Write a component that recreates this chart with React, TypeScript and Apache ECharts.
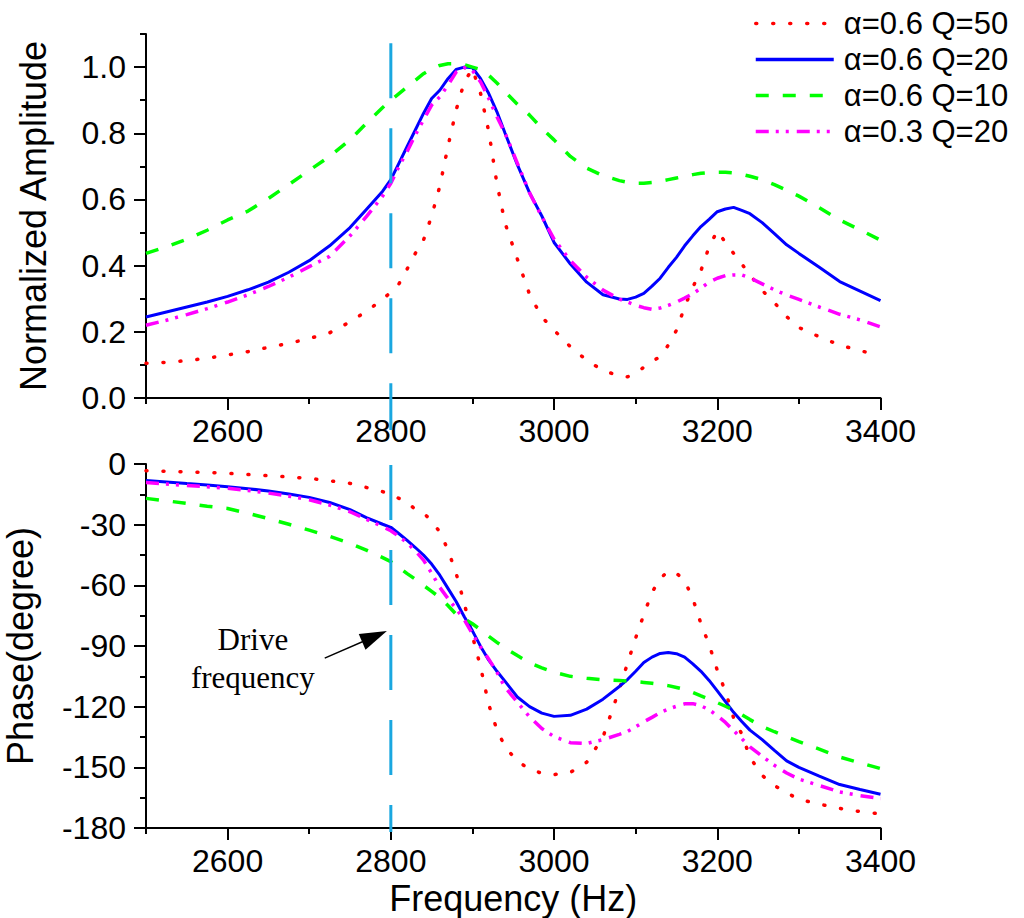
import { useEffect, useRef } from "react";
import * as echarts from "echarts";

// frequency samples (Hz), shared by every curve
const freqHz = [
  2500, 2525, 2550, 2575, 2600, 2625, 2650, 2675, 2700, 2725, 2750,
  2770, 2790,
  2800, 2810, 2820, 2830, 2840, 2850, 2860, 2870, 2880, 2890, 2900, 2910, 2920, 2930, 2940,
  2955, 2970, 2985,
  3000, 3020, 3040, 3060, 3080,
  3090, 3100, 3110, 3120, 3130, 3140, 3150, 3160, 3170, 3180, 3190, 3200, 3210, 3220, 3230, 3240,
  3255, 3270, 3285, 3300,
  3325, 3350, 3375, 3400,
];

// top panel: normalized amplitude
const ampA06Q50 = [
  0.105, 0.108, 0.113, 0.12, 0.13, 0.14, 0.153, 0.165, 0.18, 0.197, 0.23,
  0.262, 0.298,
  0.32, 0.345, 0.39, 0.437, 0.477, 0.55, 0.64, 0.76, 0.87, 0.955, 0.995, 0.92, 0.805, 0.648, 0.528,
  0.42, 0.313, 0.245,
  0.205, 0.155, 0.114, 0.083, 0.067,
  0.064, 0.075, 0.093, 0.11, 0.125, 0.16, 0.205, 0.275, 0.335, 0.385, 0.457, 0.505, 0.47, 0.437, 0.405, 0.372,
  0.325, 0.288, 0.246, 0.213,
  0.185, 0.16, 0.143, 0.128,
];
const ampA06Q20 = [
  0.245, 0.26, 0.275, 0.29, 0.307, 0.327, 0.35, 0.38, 0.415, 0.46, 0.515,
  0.57, 0.625,
  0.66, 0.71, 0.76, 0.81, 0.86, 0.905, 0.93, 0.965, 0.993, 1.0, 0.998, 0.965, 0.92, 0.865, 0.8,
  0.705, 0.62, 0.55,
  0.47, 0.405, 0.35, 0.312, 0.299,
  0.298, 0.305, 0.316, 0.338, 0.362, 0.395, 0.425, 0.46, 0.49, 0.518, 0.54, 0.563, 0.571, 0.576, 0.567, 0.557,
  0.53, 0.497, 0.463, 0.437,
  0.395, 0.352, 0.323, 0.294,
];
const ampA06Q10 = [
  0.437, 0.457, 0.48, 0.507, 0.538, 0.565, 0.603, 0.645, 0.688, 0.73, 0.78,
  0.83, 0.878,
  0.9, 0.92, 0.94, 0.96, 0.98, 0.995, 1.005, 1.01, 1.01, 1.007, 1.0, 0.993, 0.975, 0.952, 0.925,
  0.888, 0.855, 0.815,
  0.78, 0.73, 0.695, 0.672, 0.657,
  0.652, 0.649, 0.649, 0.651, 0.655, 0.66, 0.665, 0.67, 0.675, 0.679, 0.681, 0.682, 0.682, 0.68, 0.676, 0.67,
  0.66, 0.645, 0.628, 0.61,
  0.575, 0.538, 0.508, 0.477,
];
const ampA03Q20 = [
  0.22, 0.235, 0.252, 0.27, 0.29, 0.312, 0.337, 0.365, 0.397, 0.428, 0.49,
  0.548, 0.61,
  0.649, 0.7, 0.745, 0.795, 0.84, 0.885, 0.91, 0.945, 0.985, 0.998, 0.99, 0.955, 0.905, 0.85, 0.8,
  0.71, 0.62, 0.548,
  0.48, 0.415, 0.365, 0.326, 0.299,
  0.29, 0.28, 0.273, 0.268, 0.272, 0.28, 0.29, 0.302, 0.315, 0.332, 0.35, 0.362, 0.37, 0.372, 0.372, 0.363,
  0.345, 0.327, 0.311, 0.298,
  0.275, 0.253, 0.236, 0.215,
];

// bottom panel: phase (degree)
const phaseA06Q50 = [
  -3.3, -3.6, -3.9, -4.2, -4.6, -5.2, -5.8, -6.4, -7.1, -8.3, -9.6,
  -11.6, -13.7,
  -15, -17, -18.8, -22.5, -24, -28.5, -33.5, -42.5, -54, -69, -85, -100.5, -119, -131.5, -139.8,
  -147, -150.8, -153,
  -153.6, -152.5, -147.5, -135, -111.5,
  -98.5, -86, -74.5, -63.5, -56.6, -53, -54, -57.7, -66.5, -79, -89.3, -102, -112.5, -125.5, -133.5, -145,
  -154, -159, -162.6, -165.8,
  -168.2, -170.3, -171.9, -173,
];
const phaseA06Q20 = [
  -8.2, -8.9, -9.7, -10.4, -11.2, -12.2, -13.4, -14.8, -16.5, -19, -22.6,
  -26.5, -29.8,
  -31.3, -34.5, -37.8, -41.3, -45, -49.5, -55, -61.5, -68, -75.5, -82.5, -90.2, -97, -102.5, -107.5,
  -115.2, -120, -123.2,
  -124.8, -124.3, -121.2, -116.3, -110,
  -106.6, -102.5, -98.2, -95.5, -93.7, -93.2, -93.8, -95.5, -98.8, -102.5, -107, -112.2, -117.5, -122.8, -127.3, -131.6,
  -136.3, -141.6, -146.8, -150,
  -154.3, -158.5, -161, -163.3,
];
const phaseA06Q10 = [
  -17, -18.2, -19.5, -20.9, -22, -24.4, -27, -29.8, -32.7, -35.8, -39.2,
  -42.6, -46.3,
  -48.3, -51.2, -54.2, -57, -60, -63, -66, -70, -74.3, -76.5, -79, -82, -85.2, -88.2, -91,
  -94.7, -98.3, -100.8,
  -103, -105, -106, -106.7, -107.1,
  -107.3, -107.6, -108, -108.4, -109, -109.6, -110.5, -111.5, -113, -114.7, -116.3, -118, -119.8, -121.7, -124, -126.4,
  -129.8, -132.4, -134.9, -137.3,
  -141, -144.9, -147.8, -150.6,
];
const phaseA03Q20 = [
  -9.2, -9.9, -10.6, -11.3, -12, -13.1, -14.4, -15.9, -17.7, -20.3, -23.6,
  -27.3, -31,
  -33, -35.8, -39, -43, -47.5, -54, -61, -66.5, -71.5, -77, -84, -90.5, -96.5, -103, -110.5,
  -117.8, -125, -130.8,
  -134.8, -137.8, -138.2, -136.3, -133.7,
  -132.3, -130, -127.5, -125.3, -123, -121.2, -119.8, -118.6, -118.5, -119.6, -121.5, -124.5, -127.8, -131.8, -135.8, -139.9,
  -144.5, -149, -152.8, -155.8,
  -159, -162.2, -164, -165.4,
];

const seriesNames = ["α=0.6 Q=50", "α=0.6 Q=20", "α=0.6 Q=10", "α=0.3 Q=20"];
const ampSeries = [ampA06Q50, ampA06Q20, ampA06Q10, ampA03Q20];
const phaseSeries = [phaseA06Q50, phaseA06Q20, phaseA06Q10, phaseA03Q20];

const xMajorTicks = [2600, 2800, 3000, 3200, 3400];
const xMinorTicks = [2500, 2700, 2900, 3100, 3300];
const ampMajorTicks = [0, 0.2, 0.4, 0.6, 0.8, 1.0];
const ampMinorTicks = [0.1, 0.3, 0.5, 0.7, 0.9, 1.1];
const phaseMajorTicks = [-180, -150, -120, -90, -60, -30, 0];
const phaseMinorTicks = [-165, -135, -105, -75, -45, -15];

// drive frequency marker and its annotation
const driveFreq = 2800;
const driveAmpSpan = [1.072, -0.097];
const drivePhaseSpan = [-0.5, -182];
const arrowFrom = [2719, -96];
const arrowTo = [2780, -85.3];
const noteAt = [2631, -96];
const noteText = "Drive\nfrequency";

const SANS = "Liberation Sans, Arial, sans-serif";
const SERIF = "Liberation Serif, Times New Roman, serif";

const curveStyles = [
  { color: "#ff0000", width: 3.5, type: [1, 16], cap: "round" },
  { color: "#0000ff", width: 3, type: "solid" },
  { color: "#00ff00", width: 3.5, type: [13, 14] },
  { color: "#ff00ff", width: 3.5, type: [13, 7, 3, 7, 3, 8] },
];

const black = { color: "#000", width: 2 };

function xAxes(gridIndex: number, name?: string) {
  return [
    {
      type: "value",
      gridIndex,
      position: "bottom",
      min: 2500,
      max: 3400,
      name,
      nameLocation: "middle",
      nameGap: 52,
      nameTextStyle: { fontSize: 36, fontFamily: SANS, color: "#000" },
      axisLine: { show: true, onZero: false, lineStyle: black },
      axisTick: { show: true, customValues: xMajorTicks, length: 12, lineStyle: black },
      axisLabel: {
        customValues: xMajorTicks,
        margin: 17,
        fontSize: 32,
        fontFamily: SANS,
        color: "#000",
        formatter: (v: number) => String(v),
      },
      splitLine: { show: false },
    },
    {
      type: "value",
      gridIndex,
      position: "bottom",
      min: 2500,
      max: 3400,
      axisLine: { show: false, onZero: false },
      axisTick: { show: true, customValues: xMinorTicks, length: 6, lineStyle: black },
      axisLabel: { show: false },
      splitLine: { show: false },
    },
  ];
}

function yAxes(
  gridIndex: number,
  min: number,
  max: number,
  major: number[],
  minor: number[],
  name: string,
  nameGap: number,
  fmt: (v: number) => string
) {
  return [
    {
      type: "value",
      gridIndex,
      position: "left",
      min,
      max,
      name,
      nameLocation: "middle",
      nameGap,
      nameTextStyle: { fontSize: 36, fontFamily: SANS, color: "#000" },
      axisLine: { show: true, onZero: false, lineStyle: black },
      axisTick: { show: true, customValues: major, length: 12, lineStyle: black },
      axisLabel: { customValues: major, margin: 20, fontSize: 32, fontFamily: SANS, color: "#000", formatter: fmt },
      splitLine: { show: false },
    },
    {
      type: "value",
      gridIndex,
      position: "left",
      min,
      max,
      axisLine: { show: false, onZero: false },
      axisTick: { show: true, customValues: minor, length: 6, lineStyle: black },
      axisLabel: { show: false },
      splitLine: { show: false },
    },
  ];
}

function curve(i: number, values: number[], axis: number) {
  return {
    name: seriesNames[i],
    type: "line",
    xAxisIndex: axis,
    yAxisIndex: axis,
    data: freqHz.map((f, k) => [f, values[k]]),
    symbol: "none",
    smooth: false,
    silent: true,
    lineStyle: curveStyles[i],
    itemStyle: { color: curveStyles[i].color },
    z: 3,
  };
}

export default function App() {
  const ref = useRef<HTMLDivElement | null>(null);

  useEffect(() => {
    if (!ref.current) return;
    const chart = echarts.init(ref.current, null, { renderer: "svg" });

    chart.setOption({
      animation: false,
      backgroundColor: "#fff",
      legend: {
        data: seriesNames,
        orient: "vertical",
        left: 749,
        top: 3,
        itemWidth: 78,
        itemHeight: 14,
        itemGap: 5,
        selectedMode: false,
        lineStyle: { width: 3.5 },
        itemStyle: { color: "rgba(0,0,0,0)", borderColor: "rgba(0,0,0,0)", borderWidth: 0, opacity: 0 },
        textStyle: { fontSize: 31, lineHeight: 31, fontFamily: SANS, color: "#000", padding: [0, 0, 0, 5] },
      },
      grid: [
        { left: 146, right: 143.5, top: 34, height: 364, outerBoundsMode: "none" },
        { left: 146, right: 143.5, top: 464, height: 364, outerBoundsMode: "none" },
      ],
      xAxis: [...xAxes(0), ...xAxes(1, "Frequency (Hz)")],
      yAxis: [
        ...yAxes(0, 0, 1.1, ampMajorTicks, ampMinorTicks, "Normalized Amplitude", 95, (v) => v.toFixed(1)),
        ...yAxes(1, -180, 0, phaseMajorTicks, phaseMinorTicks, "Phase(degree)", 108, (v) => String(v)),
      ],
      series: [
        ...ampSeries.map((vals, i) => curve(i, vals, 0)),
        ...phaseSeries.map((vals, i) => curve(i, vals, 2)),
        {
          type: "line",
          xAxisIndex: 0,
          yAxisIndex: 0,
          data: driveAmpSpan.map((v) => [driveFreq, v]),
          symbol: "none",
          clip: false,
          silent: true,
          lineStyle: { color: "#1aa7e0", width: 3, type: [55, 30] },
          z: 4,
        },
        {
          type: "line",
          xAxisIndex: 2,
          yAxisIndex: 2,
          data: drivePhaseSpan.map((v) => [driveFreq, v]),
          symbol: "none",
          clip: false,
          silent: true,
          lineStyle: { color: "#1aa7e0", width: 3, type: [55, 30] },
          z: 4,
          markLine: {
            silent: true,
            symbol: ["none", "triangle"],
            symbolSize: [17, 27],
            label: { show: false },
            lineStyle: { color: "#000", width: 1.5, type: "solid" },
            itemStyle: { color: "#000" },
            data: [[{ coord: arrowFrom }, { coord: arrowTo }]],
          },
          markPoint: {
            silent: true,
            symbol: "rect",
            symbolSize: 1,
            itemStyle: { color: "rgba(0,0,0,0)" },
            label: {
              show: true,
              position: "inside",
              formatter: noteText,
              fontFamily: SERIF,
              fontSize: 31,
              lineHeight: 38,
              color: "#000",
              align: "center",
            },
            data: [{ coord: noteAt }],
          },
        },
      ],
    });

    return () => chart.dispose();
  }, []);

  return <div ref={ref} style={{ position: "absolute", left: 0, top: 0, width: 1024, height: 918 }} />;
}
